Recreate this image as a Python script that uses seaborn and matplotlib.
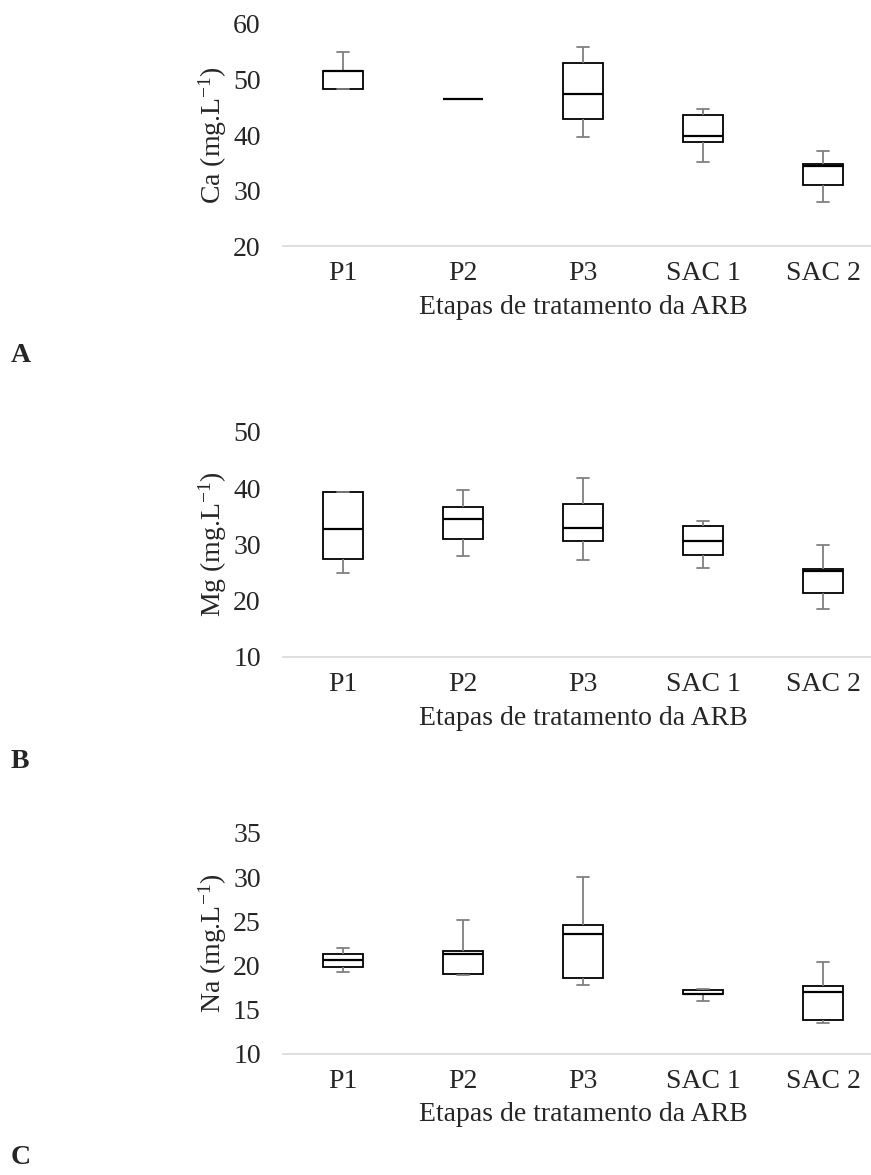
import pandas as pd
import matplotlib.pyplot as plt
import seaborn as sns

# etapas de tratamento
stages = ['P1', 'P2', 'P3', 'SAC 1', 'SAC 2']

# min, Q1, mediana, Q3, max (mg/L)
ca_values = [
    [48.2, 48.2, 51.6, 51.6, 55.0],
    [46.5, 46.5, 46.5, 46.5, 46.5],
    [39.6, 42.8, 47.4, 52.9, 55.9],
    [35.2, 38.7, 39.9, 43.6, 44.6],
    [28.0, 31.0, 34.4, 34.7, 37.2],
]
mg_values = [
    [25.0, 27.4, 32.7, 39.3, 39.4],
    [28.0, 30.9, 34.6, 36.6, 39.7],
    [27.2, 30.6, 33.0, 37.2, 41.8],
    [25.8, 28.2, 30.6, 33.2, 34.1],
    [18.5, 21.4, 25.3, 25.7, 29.9],
]
na_values = [
    [19.2, 19.8, 20.6, 21.3, 22.0],
    [18.9, 19.0, 21.3, 21.6, 25.1],
    [17.8, 18.6, 23.6, 24.6, 30.0],
    [16.0, 16.7, 16.8, 17.2, 17.3],
    [13.5, 13.8, 17.0, 17.7, 20.4],
]

sns.set_style('white')
plt.rcParams['font.family'] = ['Liberation Serif', 'DejaVu Serif']
plt.rcParams['mathtext.fontset'] = 'custom'
plt.rcParams['mathtext.rm'] = 'Liberation Serif'
plt.rcParams['mathtext.it'] = 'Liberation Serif:italic'


def to_long(values):
    rows = []
    for stage, vals in zip(stages, values):
        for v in vals:
            rows.append({'etapa': stage, 'valor': v})
    return pd.DataFrame(rows)


H = 1175.0
panels = [
    (ca_values, 'Ca (mg.L$^{-1}$)', (20, 60), [20, 30, 40, 50, 60], 'A', 355, [0.325, 0.7906, 0.689, 0.1890]),
    (mg_values, 'Mg (mg.L$^{-1}$)', (10, 50), [10, 20, 30, 40, 50], 'B', 762, [0.325, 0.4409, 0.689, 0.1915]),
    (na_values, 'Na (mg.L$^{-1}$)', (10, 35), [10, 15, 20, 25, 30, 35], 'C', 1158, [0.325, 0.1034, 0.689, 0.1877]),
]

fig = plt.figure(figsize=(8.71, 11.75), dpi=100)

for values, ylabel, ylim, yticks, letter, letter_y, pos in panels:
    ax = fig.add_axes(pos)
    df = to_long(values)
    sns.boxplot(data=df, x='etapa', y='valor', order=stages, ax=ax,
                whis=(0, 100), width=0.33, showfliers=False,
                color='white', linecolor='black', linewidth=1.3,
                whiskerprops=dict(color='#808080', linewidth=1.3),
                capprops=dict(color='#808080', linewidth=1.3),
                medianprops=dict(color='black', linewidth=1.6),
                capwidths=0.1)
    ax.set_xlim(-0.5, 4.5)
    ax.set_ylim(*ylim)
    ax.set_yticks(yticks)
    ax.tick_params(axis='both', length=0, labelsize=20)
    ax.tick_params(axis='y', pad=16)
    ax.tick_params(axis='x', pad=11)
    for s in ['top', 'right', 'left']:
        ax.spines[s].set_visible(False)
    ax.spines['bottom'].set_color('#d9d9d9')
    ax.spines['bottom'].set_linewidth(1.2)
    ax.spines['bottom'].set_clip_on(False)
    ax.set_ylabel(ylabel, fontsize=20, labelpad=3)
    ax.set_xlabel('Etapas de tratamento da ARB', fontsize=20, labelpad=6)
    # letra do painel
    fig.text(0.012, 1 - letter_y / H, letter, fontsize=20, fontweight='bold', va='center')

plt.savefig('out.png', dpi=100)
